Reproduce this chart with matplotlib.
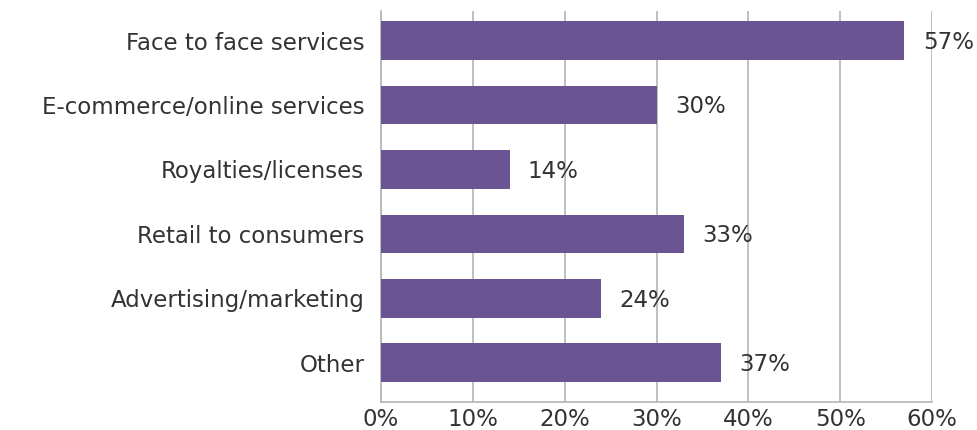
import matplotlib
matplotlib.use("Agg")
import matplotlib.pyplot as plt
from matplotlib.ticker import PercentFormatter

categories = ["Face to face services", "E-commerce/online services", "Royalties/licenses",
              "Retail to consumers", "Advertising/marketing", "Other"]
shares = [57, 30, 14, 33, 24, 37]
x_ticks = [0, 10, 20, 30, 40, 50, 60]

bar_color = "#6b5494"
text_color = "#333333"
grid_color = "#b4b4b4"

plt.rcParams["font.family"] = ["DejaVu Sans"]

fig = plt.figure(figsize=(9.78, 4.3), dpi=100)
ax = fig.add_axes([381 / 978, 28 / 430, 551 / 978, 391 / 430])

# top category first
ypos = list(range(len(categories)))[::-1]
ax.barh(ypos, shares, height=0.6, color=bar_color, zorder=3)

for y, v in zip(ypos, shares):
    ax.text(v + 2.0, y - 0.03, f"{v}%", va="center", ha="left",
            fontsize=16.5, color=text_color, zorder=4)

ax.set_xlim(0, 60)
ax.set_ylim(-0.61, 5.46)
ax.set_xticks(x_ticks)
ax.xaxis.set_major_formatter(PercentFormatter(decimals=0))
ax.set_yticks(ypos)
ax.set_yticklabels(categories)

ax.grid(axis="x", color=grid_color, linewidth=1.2, zorder=0)
ax.tick_params(axis="both", length=0, labelsize=16.5, labelcolor=text_color)
ax.tick_params(axis="y", pad=12)
ax.tick_params(axis="x", pad=4)

for side in ("top", "right"):
    ax.spines[side].set_visible(False)
for side in ("left", "bottom"):
    ax.spines[side].set_color(grid_color)
    ax.spines[side].set_linewidth(1.2)

fig.savefig("out.png", dpi=100)
